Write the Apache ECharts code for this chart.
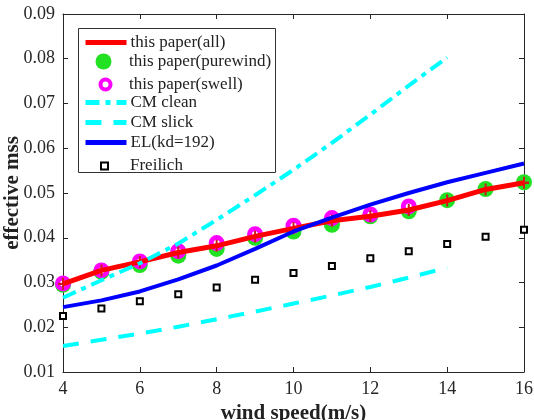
<!DOCTYPE html>
<html>
<head>
<meta charset="utf-8">
<script src="https://cdn.jsdelivr.net/npm/echarts@6/dist/echarts.min.js"></script>
<style>
html, body { margin: 0; padding: 0; background: #fff; }
#chart { width: 534px; height: 420px; }
</style>
</head>
<body>
<div id="chart"></div>
<script>
// wind speed (m/s)
const windSpeed = [4, 5, 6, 7, 8, 9, 10, 11, 12, 13, 14, 15, 16];
const xTicks = [4, 6, 8, 10, 12, 14, 16];
const yTicks = [0.01, 0.02, 0.03, 0.04, 0.05, 0.06, 0.07, 0.08, 0.09];

const paperAll = [0.0297, 0.0327, 0.0346, 0.0367, 0.0382, 0.0403, 0.0421, 0.0438, 0.0448, 0.0462, 0.0483, 0.0508, 0.0523];
const paperPurewind = [0.0295, 0.0324, 0.0339, 0.0360, 0.0375, 0.0400, 0.0414, 0.0429, 0.0448, 0.0459, 0.0484, 0.0509, 0.0524];
const paperSwell = [0.0298, 0.0327, 0.0347, 0.0370, 0.0388, 0.0408, 0.0427, 0.0444, 0.0452, 0.0470]; // 4..13
const cmClean = [0.0266, 0.0305, 0.0343, 0.0387, 0.0440, 0.0495, 0.0552, 0.0612, 0.0675, 0.0740, 0.0803]; // 4..14
const cmSlick = [0.0158, 0.0172, 0.0186, 0.0201, 0.0218, 0.0235, 0.0253, 0.0271, 0.0290, 0.0311, 0.0333]; // 4..14
const elModel = [0.0245, 0.0260, 0.0280, 0.0307, 0.0338, 0.0375, 0.0414, 0.0445, 0.0474, 0.0500, 0.0524, 0.0545, 0.0566];
const freilich = [0.0225, 0.0242, 0.0258, 0.0274, 0.0289, 0.0306, 0.0321, 0.0337, 0.0354, 0.0370, 0.0386, 0.0402, 0.0418];

const legendNames = ['this paper(all)', 'this paper(purewind)', 'this paper(swell)', 'CM clean', 'CM slick', 'EL(kd=192)', 'Freilich'];

const pair = (vals) => vals.map((v, i) => [windSpeed[i], v]);

const font = 'Liberation Serif, Times New Roman, serif';
const axisColor = '#262626';
const plus = 'path://M4,0 L6,0 L6,4 L10,4 L10,6 L6,6 L6,10 L4,10 L4,6 L0,6 L0,4 L4,4 Z';

const axisCommon = {
    type: 'value',
    axisLine: { show: true, lineStyle: { color: axisColor, width: 1 } },
    axisTick: { show: true, inside: true, length: 5, lineStyle: { color: axisColor } },
    splitLine: { show: false },
};

// one legend per row so each icon can be sized like the original
const rowY = [41, 61, 81, 101, 121, 141, 161];
function legendRow(i, opts) {
    const h = opts.h || 14;
    const w = opts.w || 41;
    const cx = 103.5;
    const row = {
        orient: 'vertical',
        left: opts.w ? cx - w / 2 : 83,
        top: rowY[i] - h / 2,
        padding: 0,
        itemWidth: w,
        itemHeight: h,
        z: 10,
        textStyle: { fontFamily: font, fontSize: 17, color: '#222',
            padding: [0, 0, 0, (opts.w ? 124 - (cx + w / 2) : -1) + (opts.shift || 0)] },
        data: [legendNames[i]],
    };
    if (opts.itemStyle) row.itemStyle = opts.itemStyle;
    if (opts.lineStyle) row.lineStyle = opts.lineStyle;
    return row;
}
const hideDot = { opacity: 0 };

const chart = echarts.init(document.getElementById('chart'));
chart.setOption({
    animation: false,
    backgroundColor: '#fff',
    grid: { left: 63, right: 10, top: 14, bottom: 48, outerBoundsMode: 'none', containLabel: false },
    graphic: [{
        type: 'rect', z: 9, left: 78, top: 28,
        shape: { width: 197, height: 144 },
        style: { fill: '#fff', stroke: '#333', lineWidth: 1 },
    }],
    legend: [
        legendRow(0, { itemStyle: hideDot, lineStyle: { width: 5, color: '#ff0000' } }),
        legendRow(1, { w: 16, h: 16, itemStyle: { color: '#22e022' } }),
        legendRow(2, { w: 10, h: 10, shift: -2, itemStyle: { color: '#fff', borderColor: '#ff00ff', borderWidth: 4 } }),
        legendRow(3, { itemStyle: hideDot, lineStyle: { width: 5, color: '#00ffff', type: [14, 6, 5, 6] } }),
        legendRow(4, { itemStyle: hideDot, lineStyle: { width: 5, color: '#00ffff', type: [16, 12] } }),
        legendRow(5, { itemStyle: hideDot, lineStyle: { width: 5, color: '#0000ff' } }),
        legendRow(6, { w: 7, h: 7, itemStyle: { color: '#fff', borderColor: '#000', borderWidth: 2 } }),
    ],
    xAxis: [
        Object.assign({}, axisCommon, {
            min: xTicks[0], max: xTicks[xTicks.length - 1], interval: 2,
            name: 'wind speed(m/s)', nameLocation: 'middle', nameGap: 28,
            nameTextStyle: { fontFamily: font, fontSize: 21, fontWeight: 'bold', color: '#222' },
            axisLabel: { fontFamily: font, fontSize: 18, color: axisColor, margin: 8 },
        }),
        Object.assign({}, axisCommon, {
            position: 'top', min: 4, max: 16, interval: 2,
            axisLabel: { show: false },
        }),
    ],
    yAxis: [
        Object.assign({}, axisCommon, {
            min: yTicks[0], max: yTicks[yTicks.length - 1], interval: 0.01,
            name: 'effective mss', nameLocation: 'middle', nameGap: 40, nameMoveOverlap: false,
            nameTextStyle: { fontFamily: font, fontSize: 21, fontWeight: 'bold', color: '#222' },
            axisLabel: { fontFamily: font, fontSize: 18, color: axisColor, margin: 8,
                formatter: (v) => v.toFixed(2) },
        }),
        Object.assign({}, axisCommon, {
            position: 'right', min: 0.01, max: 0.09, interval: 0.01,
            axisLabel: { show: false },
        }),
    ],
    series: [
        {
            name: 'this paper(all)', type: 'line',
            data: pair(paperAll), symbol: 'none',
            lineStyle: { color: '#ff0000', width: 5 }, itemStyle: { color: '#ff0000' },
        },
        {
            name: 'this paper(purewind)', type: 'scatter',
            data: pair(paperPurewind), symbol: 'circle', symbolSize: 16,
            itemStyle: { color: '#22e022', opacity: 1 },
        },
        {
            name: 'this paper(swell)', type: 'scatter',
            data: pair(paperSwell), symbol: 'circle', symbolSize: 11,
            itemStyle: { color: '#fff', borderColor: '#ff00ff', borderWidth: 5, opacity: 1 },
        },
        {
            name: 'CM clean', type: 'line',
            data: pair(cmClean), symbol: 'none',
            lineStyle: { color: '#00ffff', width: 4, type: [14, 6, 5, 6] }, itemStyle: { color: '#00ffff' },
        },
        {
            name: 'CM slick', type: 'line',
            data: pair(cmSlick), symbol: 'none',
            lineStyle: { color: '#00ffff', width: 4, type: [16, 12] }, itemStyle: { color: '#00ffff' },
        },
        {
            name: 'EL(kd=192)', type: 'line',
            data: pair(elModel), symbol: 'none',
            lineStyle: { color: '#0000ff', width: 4 }, itemStyle: { color: '#0000ff' },
        },
        {
            name: 'Freilich', type: 'scatter',
            data: pair(freilich), symbol: 'rect', symbolSize: 6,
            itemStyle: { color: '#fff', borderColor: '#000', borderWidth: 2, opacity: 1 },
        },
        {
            name: 'all-marks', type: 'scatter',
            data: pair(paperAll), symbol: plus, symbolSize: [10, 12],
            itemStyle: { color: '#c81e1e', opacity: 1 },
        },
    ],
});
</script>
</body>
</html>
